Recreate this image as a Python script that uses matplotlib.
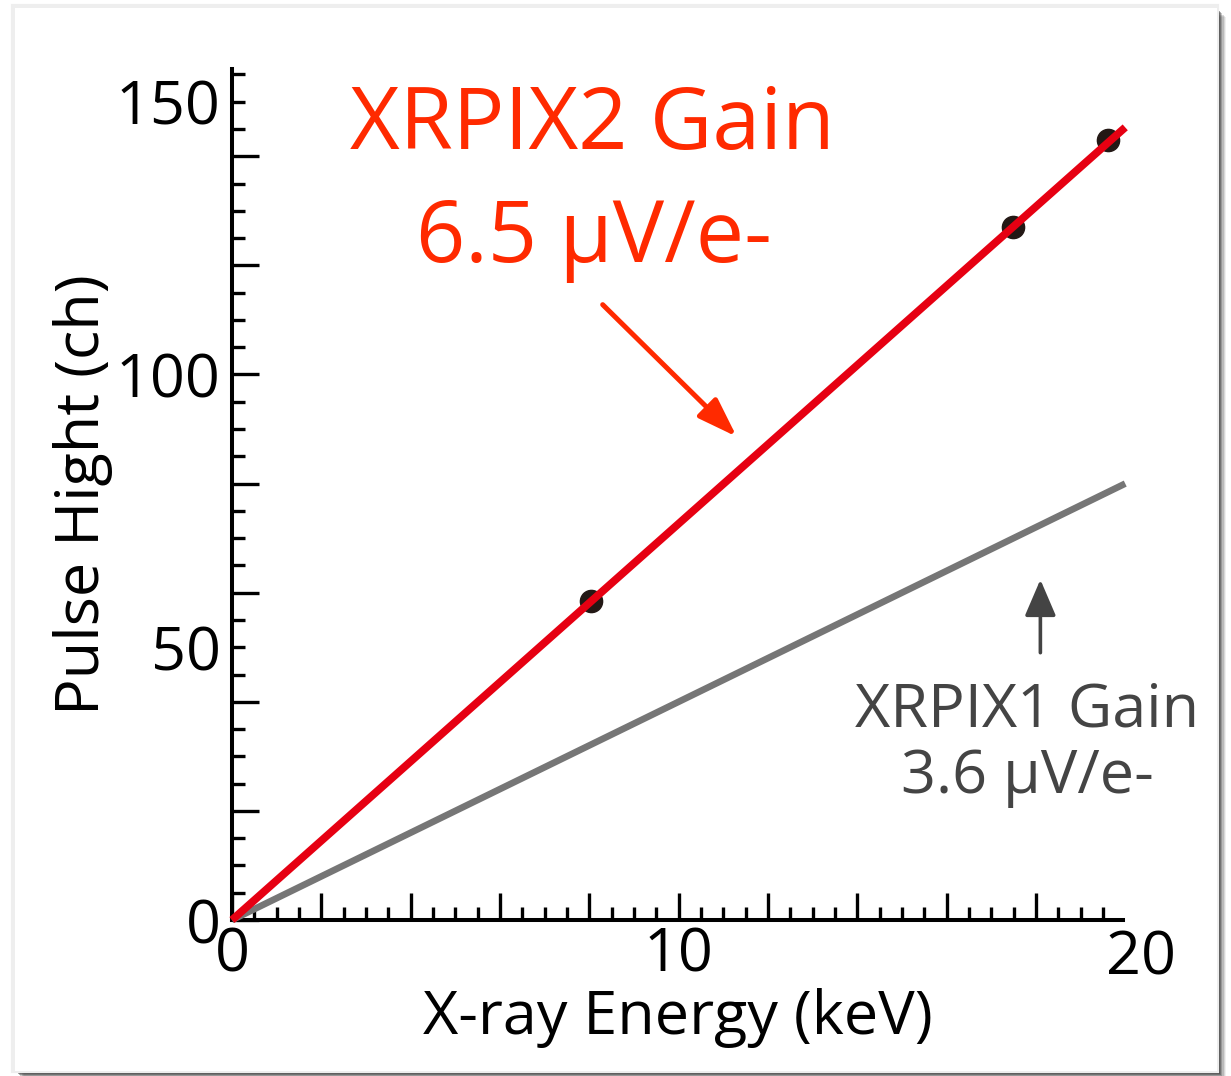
import numpy as np
import matplotlib
matplotlib.use('Agg')
import matplotlib.pyplot as plt
from matplotlib.ticker import MultipleLocator, FuncFormatter
from matplotlib.patches import Rectangle, FancyArrowPatch

plt.rcParams['font.family'] = ['Open Sans', 'DejaVu Sans']

# 測定点 (keV, ch)
energy = [8.04, 17.48, 19.61]
pulse_height = [58.5, 127.0, 143.0]

# ゲイン直線 (0〜20 keV)
line_energy = [0, 20]
xrpix2_line = [0, 145.3]
xrpix1_line = [0, 80.0]

W, H = 1231, 1076
fig = plt.figure(figsize=(W / 100, H / 100), dpi=100)
fig.patch.set_facecolor('white')

# 枠と影
for i, a in enumerate([0.08, 0.12, 0.18, 0.26, 0.36, 0.48, 0.60]):
    off = 9 - i * 1.2
    fig.patches.append(Rectangle(((15 + off) / W, 1 - (1071 + off) / H),
                                 1202 / W, 1063 / H, transform=fig.transFigure,
                                 facecolor='#333333', edgecolor='none', alpha=a, zorder=-3))
fig.patches.append(Rectangle((13 / W, 1 - 1071 / H), 1204 / W, 1065 / H,
                             transform=fig.transFigure, facecolor='none',
                             edgecolor='#eeeeee', lw=3, zorder=-2))
fig.patches.append(Rectangle((15 / W, 1 - 1071 / H), 1202 / W, 1063 / H,
                             transform=fig.transFigure, facecolor='white',
                             edgecolor='none', zorder=-1))

ax = fig.add_axes([232 / W, 1 - 920 / H, (1123 - 232) / W, (920 - 69) / H])
ax.set_facecolor('none')
ax.set_xlim(0, 19.95)
ax.set_ylim(0, 156)

ax.plot(energy, pulse_height, 'o', color='#231815', ms=16, zorder=2, clip_on=False)
ax.plot(line_energy, xrpix1_line, color='#767676', lw=4.8, solid_capstyle='butt', zorder=3, clip_on=False)
ax.plot(line_energy, xrpix2_line, color='#e60012', lw=5.6, solid_capstyle='butt', zorder=4, clip_on=False)

for s in ['top', 'right']:
    ax.spines[s].set_visible(False)
for s in ['left', 'bottom']:
    ax.spines[s].set_linewidth(2.9)

ax.xaxis.set_major_locator(MultipleLocator(2))
ax.xaxis.set_minor_locator(MultipleLocator(0.5))
ax.yaxis.set_major_locator(MultipleLocator(20))
ax.yaxis.set_minor_locator(MultipleLocator(5))

fx = FuncFormatter(lambda v, p: '%d' % round(v) if abs(v % 10) < 1e-6 else '')
fy = FuncFormatter(lambda v, p: '%d' % round(v) if abs(v % 50) < 1e-6 else '')
ax.xaxis.set_major_formatter(fx)
ax.yaxis.set_major_formatter(fy)
ax.yaxis.set_minor_formatter(fy)

ax.tick_params(which='both', direction='in', width=2.4, labelsize=44, colors='black')
ax.tick_params(which='major', length=19.5)
ax.tick_params(which='minor', length=9.5)
ax.tick_params(axis='x', which='both', pad=4)
ax.tick_params(axis='y', which='both', pad=8)

ax.text(20.35, -1.5, '20', fontsize=44, ha='center', va='top')

ax.set_xlabel('X-ray Energy (keV)', fontsize=44, labelpad=2)
ax.set_ylabel('Pulse Hight (ch)', fontsize=44, labelpad=2)

# 注釈
red = '#ff2a00'
ax.text(8.06, 141.3, 'XRPIX2 Gain', color=red, fontsize=62, ha='center', va='baseline')
ax.text(8.1, 120.7, '6.5 μV/e-', color=red, fontsize=62, ha='center', va='baseline')
ax.add_patch(FancyArrowPatch((8.3, 112.8), (11.3, 88.6), arrowstyle='-|>,head_length=1.6,head_width=0.55',
                             mutation_scale=15, color=red, lw=3.6, shrinkA=0, shrinkB=0, zorder=5))

gray = '#444444'
ax.text(17.8, 35.4, 'XRPIX1 Gain', color=gray, fontsize=44, ha='center', va='baseline')
ax.text(17.8, 23.3, '3.6 μV/e-', color=gray, fontsize=44, ha='center', va='baseline')
ax.add_patch(FancyArrowPatch((18.1, 49.0), (18.1, 62.4), arrowstyle='-|>,head_length=1.4,head_width=0.6',
                             mutation_scale=16, color=gray, lw=2.6, shrinkA=0, shrinkB=0, zorder=5))

fig.savefig('out.png', dpi=100)
